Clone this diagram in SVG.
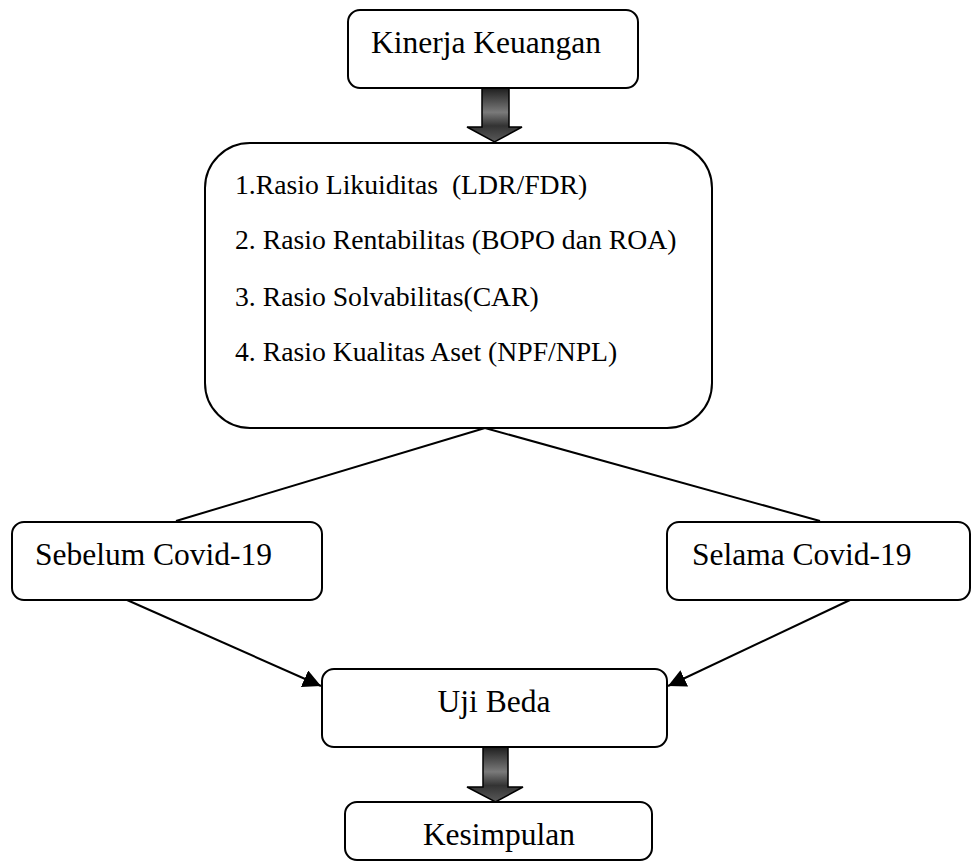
<svg xmlns="http://www.w3.org/2000/svg" width="971" height="861" viewBox="0 0 971 861">
<style>
.box{fill:#fff;stroke:#000;stroke-width:2}
.lbl{font-family:"Liberation Serif","Times New Roman",serif;font-size:31.5px;fill:#000}
.lst{font-family:"Liberation Serif","Times New Roman",serif;font-size:27.7px;fill:#000}
.ln{stroke:#000;stroke-width:2;fill:none}
.fat{fill:url(#g);stroke:#000;stroke-width:1.5}
</style>
<defs>
<linearGradient id="g" x1="0" y1="0" x2="0" y2="1">
<stop offset="0" stop-color="#1e1e1e"/>
<stop offset="0.45" stop-color="#7a7a7a"/>
<stop offset="0.7" stop-color="#333"/>
<stop offset="1" stop-color="#5a5a5a"/>
</linearGradient>
<marker id="ah2" viewBox="0 0 10 10" refX="10" refY="5" markerWidth="9" markerHeight="9" orient="auto">
<path d="M0,0 L10,5 L0,10 z" fill="#000"/>
</marker>
</defs>
<g id="connectors">
<line class="ln" x1="485" y1="428" x2="176" y2="521"/>
<line class="ln" x1="485" y1="428" x2="820" y2="521"/>
<line class="ln" x1="127" y1="600" x2="321" y2="686" marker-end="url(#ah2)"/>
<line class="ln" x1="850" y1="600" x2="668" y2="686" marker-end="url(#ah2)"/>
<path class="fat" d="M482,88 H509 V127 H522 L494.5,142 L467,127 H482 Z"/>
<path class="fat" d="M483,747 H508 V787 H523 L495.5,802 L467,787 H483 Z"/>
</g>
<g id="kinerja">
<rect class="box" x="348" y="10" width="290" height="78" rx="12"/>
<text class="lbl" x="371" y="53">Kinerja Keuangan</text>
</g>
<g id="rasio">
<rect class="box" x="205" y="143" width="507" height="285" rx="45"/>
<text class="lst" x="235" y="194" xml:space="preserve">1.Rasio Likuiditas  (LDR/FDR)</text>
<text class="lst" x="235" y="249">2. Rasio Rentabilitas (BOPO dan ROA)</text>
<text class="lst" x="235" y="306">3. Rasio Solvabilitas(CAR)</text>
<text class="lst" x="235" y="361">4. Rasio Kualitas Aset (NPF/NPL)</text>
</g>
<g id="sebelum">
<rect class="box" x="12" y="522" width="310" height="78" rx="12"/>
<text class="lbl" x="35" y="565">Sebelum Covid-19</text>
</g>
<g id="selama">
<rect class="box" x="667" y="522" width="303" height="78" rx="12"/>
<text class="lbl" x="692" y="565">Selama Covid-19</text>
</g>
<g id="ujibeda">
<rect class="box" x="322" y="669" width="345" height="78" rx="12"/>
<text class="lbl" x="494" y="712" text-anchor="middle">Uji Beda</text>
</g>
<g id="kesimpulan">
<rect class="box" x="345" y="802" width="307" height="58" rx="12"/>
<text class="lbl" x="499" y="845" text-anchor="middle">Kesimpulan</text>
</g>
</svg>
